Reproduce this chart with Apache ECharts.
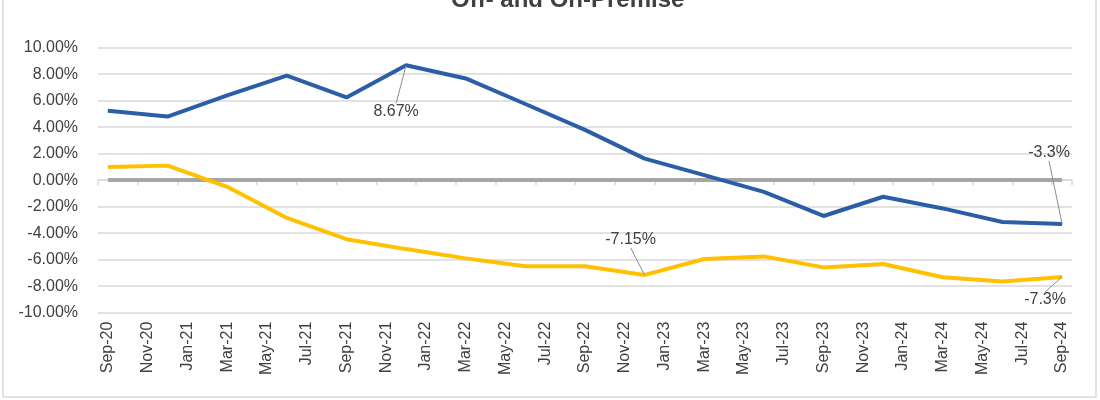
<!DOCTYPE html>
<html>
<head>
<meta charset="utf-8">
<script src="https://cdn.jsdelivr.net/npm/echarts@6/dist/echarts.min.js"></script>
<style>
  html, body { margin: 0; padding: 0; background: #fff; }
  #chart { width: 1100px; height: 400px; }
</style>
</head>
<body>
<div id="chart"></div>
<script>
// monthly category axis, data is quarterly
const months = [
  "Sep-20", "Oct-20", "Nov-20", "Dec-20", "Jan-21", "Feb-21", "Mar-21", "Apr-21",
  "May-21", "Jun-21", "Jul-21", "Aug-21", "Sep-21", "Oct-21", "Nov-21", "Dec-21",
  "Jan-22", "Feb-22", "Mar-22", "Apr-22", "May-22", "Jun-22", "Jul-22", "Aug-22",
  "Sep-22", "Oct-22", "Nov-22", "Dec-22", "Jan-23", "Feb-23", "Mar-23", "Apr-23",
  "May-23", "Jun-23", "Jul-23", "Aug-23", "Sep-23", "Oct-23", "Nov-23", "Dec-23",
  "Jan-24", "Feb-24", "Mar-24", "Apr-24", "May-24", "Jun-24", "Jul-24", "Aug-24",
  "Sep-24"
];

const quarters = [
  "Sep-20", "Dec-20", "Mar-21", "Jun-21", "Sep-21", "Dec-21", "Mar-22", "Jun-22",
  "Sep-22", "Dec-22", "Mar-23", "Jun-23", "Sep-23", "Dec-23", "Mar-24", "Jun-24",
  "Sep-24"
];

// blue line
const blueValues = [
  5.25, 4.8, 6.4, 7.9, 6.25, 8.67, 7.68, 5.75,
  3.8, 1.63, 0.38, -0.88, -2.7, -1.25, -2.13, -3.15,
  -3.3
];

// yellow line
const yellowValues = [
  1.0, 1.1, -0.5, -2.85, -4.45, -5.2, -5.9, -6.5,
  -6.5, -7.15, -5.95, -5.75, -6.58, -6.33, -7.33, -7.65,
  -7.3
];

const yTicks = { min: -10, max: 10, interval: 2 };

// which quarters carry a data label, and where the label sits relative to the point
const blueLabels = { "Dec-21": [-10, 46], "Sep-24": [-13, -71] };
const yellowLabels = { "Dec-22": [-14, -35], "Sep-24": [-17, 23] };

const FONT = "'Liberation Sans', Arial, sans-serif";
const TEXT = "#404040";

function toMonthly(values, labels) {
  const out = months.map(() => null);
  quarters.forEach((q, i) => {
    const idx = months.indexOf(q);
    out[idx] = labels[q]
      ? { value: values[i], label: { show: true } }
      : values[i];
  });
  return out;
}

function layoutFor(labels) {
  return function (params) {
    const off = labels[months[params.dataIndex]];
    if (!off) return {};
    return { dx: off[0], dy: off[1] };
  };
}

function lineSeries(name, color, values, labels) {
  return {
    name: name,
    type: "line",
    data: toMonthly(values, labels),
    connectNulls: true,
    symbol: "circle",
    symbolSize: 1,
    showSymbol: true,
    lineStyle: { color: color, width: 4 },
    itemStyle: { color: color },
    label: {
      show: false,
      position: "inside",
      formatter: (p) => p.value + "%",
      color: TEXT,
      fontSize: 16,
      fontFamily: FONT
    },
    labelLine: { show: true, lineStyle: { color: "#8c8c8c", width: 1 } },
    labelLayout: layoutFor(labels),
    z: 3
  };
}

const chart = echarts.init(document.getElementById("chart"));

chart.setOption({
  animation: false,
  title: {
    text: "Off- and On-Premise",
    left: 446,
    top: -17,
    textStyle: { fontSize: 24, fontWeight: "bold", color: TEXT, fontFamily: FONT }
  },
  graphic: [{
    type: "rect",
    shape: { x: 3, y: -5, width: 1093, height: 402 },
    style: { fill: "none", stroke: "#d9d9d9", lineWidth: 1.5 },
    silent: true
  }],
  grid: { left: 98, right: 28, top: 47.7, bottom: 87.3 },
  xAxis: [
    {
      type: "category",
      data: months,
      boundaryGap: true,
      position: "bottom",
      axisLine: { show: false, onZero: false },
      axisTick: { show: false },
      axisLabel: {
        interval: 1,
        rotate: 90,
        margin: 9,
        color: TEXT,
        fontSize: 16,
        fontFamily: FONT
      },
      splitLine: { show: false }
    },
    {
      type: "category",
      data: months,
      boundaryGap: true,
      position: "bottom",
      axisLine: { show: true, onZero: true, lineStyle: { color: "#d9d9d9", width: 1.5 } },
      axisTick: { show: true, interval: 1, length: 5, lineStyle: { color: "#d9d9d9", width: 1.5 } },
      axisLabel: { show: false },
      splitLine: { show: false }
    }
  ],
  yAxis: {
    type: "value",
    min: yTicks.min,
    max: yTicks.max,
    interval: yTicks.interval,
    axisLine: { show: false },
    axisTick: { show: false },
    axisLabel: {
      formatter: (v) => v.toFixed(2) + "%",
      margin: 20,
      color: TEXT,
      fontSize: 16,
      fontFamily: FONT
    },
    splitLine: { lineStyle: { color: "#d9d9d9", width: 1.5 } }
  },
  series: [
    Object.assign(lineSeries("On-Premise", "#2b5ea7", blueValues, blueLabels), {
      markLine: {
        silent: true,
        symbol: "none",
        label: { show: false },
        lineStyle: { color: "#a6a6a6", width: 4, type: "solid" },
        data: [[
          { coord: [quarters[0], 0] },
          { coord: [quarters[quarters.length - 1], 0] }
        ]],
        z: 2
      }
    }),
    lineSeries("Off-Premise", "#ffc000", yellowValues, yellowLabels)
  ]
});
</script>
</body>
</html>
